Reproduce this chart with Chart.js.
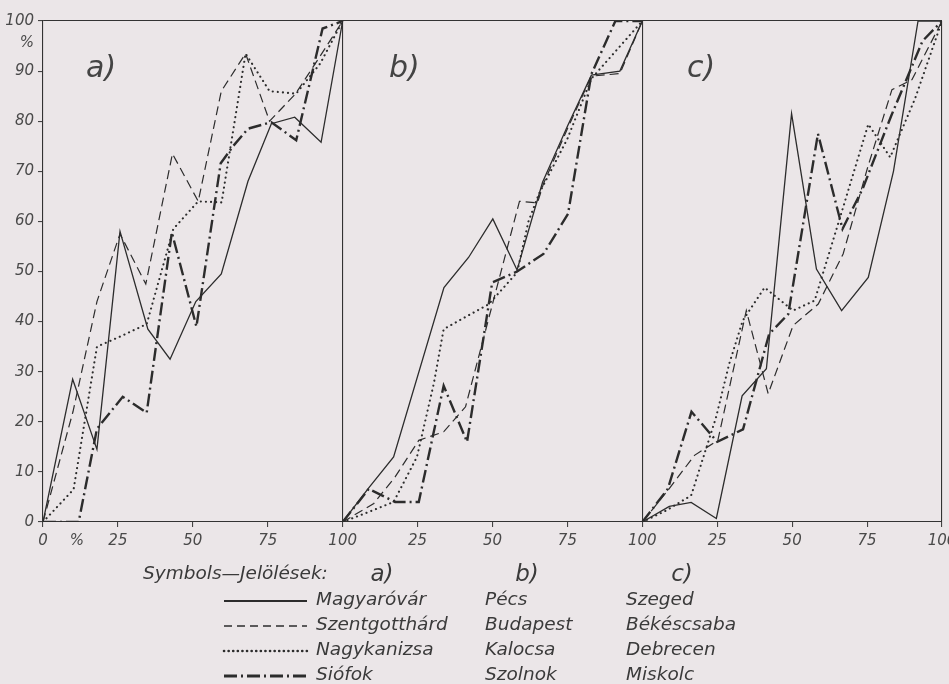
<!DOCTYPE html>
<html>
<head>
<meta charset="utf-8">
<script src="https://cdn.jsdelivr.net/npm/chart.js@4"></script>
<style>
  body { margin: 0; background: #ebe6e8; }
  #wrap { position: relative; width: 949px; height: 684px; overflow: hidden; }
  #wrap canvas { position: absolute; left: 0; top: 0; }
  .t { position: absolute; font-family: "DejaVu Sans", sans-serif; font-style: italic; color: #3a3a3a; white-space: nowrap; line-height: 1; }
  .panel { font-size: 30px; color: #444; }
  .leg { font-size: 18.5px; }
  .hd { font-size: 23px; }
  svg.s { position: absolute; }
</style>
</head>
<body>
<div id="wrap">
  <canvas id="c" width="949" height="684"></canvas>
</div>

<script>
  // x positions (% of the range) and y values (%)
  // panel a)
  const aMagyarovarX    = [0, 9.9, 18, 25.7, 35, 42.4, 51, 59.5, 68.4, 76.2, 84, 92.8, 100];
  const aMagyarovarY    = [0, 28.5, 14.5, 58, 38.5, 32.5, 44, 49.5, 68, 79.5, 80.8, 75.8, 100];
  const aSzentgotthardX = [0, 10, 18, 25.7, 34.3, 43.2, 51.8, 59.5, 67.6, 75.6, 84.3, 92.5, 100];
  const aSzentgotthardY = [0, 22, 44, 57.5, 47.5, 73.5, 64, 86, 93.5, 80, 85.5, 93, 100];
  const aNagykanizsaX   = [0, 10.2, 18, 25.7, 34.6, 43.5, 51.8, 59.6, 67.6, 75.6, 84.5, 92.5, 100];
  const aNagykanizsaY   = [0, 6.5, 35, 37, 39.5, 58.5, 64, 63.8, 93.5, 86, 85.5, 91.5, 100];
  const aSiofokX        = [0, 11.9, 18, 26.6, 34.6, 43, 51.2, 59.3, 63.4, 68.4, 76.2, 84.5, 93.3, 100];
  const aSiofokY        = [0, 0, 18.6, 25, 21.8, 57.8, 39, 71.6, 75, 78.5, 79.8, 76.2, 98.5, 100];

  // panel b)
  const bPecsX     = [0, 8.7, 17, 33.8, 42, 50.1, 58.2, 66.7, 75, 83, 92.5, 100];
  const bPecsY     = [0, 6.8, 13, 46.8, 52.8, 60.5, 50.3, 67.8, 79, 89.2, 90, 100];
  const bBudapestX = [0, 10.4, 17.5, 25.4, 33.7, 41, 59, 65, 67, 75, 83, 92.5, 100];
  const bBudapestY = [0, 3.7, 9, 16.3, 18, 23, 64, 63.7, 67.5, 78.5, 89, 89.5, 100];
  const bKalocsaX  = [0, 8.7, 17, 24.8, 30.4, 33.7, 48.8, 58.2, 62, 65.5, 75, 83, 100];
  const bKalocsaY  = [0, 2, 4, 13, 27.6, 38.5, 43.5, 49.8, 60, 65.5, 76.5, 88.5, 100];
  const bSzolnokX  = [0, 8.7, 17.5, 25.4, 33.7, 41.5, 49.9, 58.2, 67, 75.2, 83, 91, 100];
  const bSzolnokY  = [0, 6.6, 4, 4, 27.2, 16, 47.8, 50, 53.5, 61.5, 89.4, 100, 100];

  // panel c)
  const cSzegedX     = [0, 9, 16.3, 24.7, 33.3, 41.4, 49.8, 58.1, 66.5, 75.4, 83.8, 92, 100];
  const cSzegedY     = [0, 3.1, 3.9, 0.7, 25.2, 30.6, 81.5, 50.5, 42.2, 48.8, 70, 100, 100];
  const cBekescsabaX = [0, 8.5, 17.4, 25.2, 34.7, 42, 50.3, 58.7, 67, 75.3, 83.3, 90, 100];
  const cBekescsabaY = [0, 6.3, 13.3, 16.3, 42.2, 25.6, 39.2, 43.5, 53.5, 71, 86.3, 88.3, 100];
  const cDebrecenX   = [0, 8, 16.3, 24.6, 29, 33.5, 40.8, 50.3, 57.5, 67, 75.4, 82.7, 91, 100];
  const cDebrecenY   = [0, 2.3, 5.3, 20.9, 31.6, 40.2, 46.8, 42.2, 44.2, 62.8, 79.4, 72.8, 84.5, 100];
  const cMiskolcX    = [0, 8.5, 16.4, 25, 33.6, 42.3, 48.7, 58.6, 66.8, 73.5, 83, 93.5, 100];
  const cMiskolcY    = [0, 6.6, 22, 16, 18.5, 37.5, 41.5, 77.5, 58.5, 66.5, 81, 96, 100];

  // tick positions on the long x axis (three panels of 0..100 side by side)
  const xTicks = [0, 11.3, 25, 50, 75, 100, 125, 150, 175, 200, 225, 250, 275, 300];
  const xTickLabels = ['0', '%', '25', '50', '75', '100', '25', '50', '75', '100', '25', '50', '75', '100'];
  const yTicks = [0, 10, 20, 30, 40, 50, 60, 70, 80, 90, 95.6, 100];
  const yTickLabels = ['0', '10', '20', '30', '40', '50', '60', '70', '80', '90', '%', '100'];

  const panelNames = ['a)', 'b)', 'c)'];
  const styleNames = ['solid', 'dashed', 'dotted', 'dashdot'];
  const townNames = [
    ['Magyaróvár', 'Szentgotthárd', 'Nagykanizsa', 'Siófok'],
    ['Pécs', 'Budapest', 'Kalocsa', 'Szolnok'],
    ['Szeged', 'Békéscsaba', 'Debrecen', 'Miskolc']
  ];
  const series = [
    [[aMagyarovarX, aMagyarovarY], [aSzentgotthardX, aSzentgotthardY], [aNagykanizsaX, aNagykanizsaY], [aSiofokX, aSiofokY]],
    [[bPecsX, bPecsY], [bBudapestX, bBudapestY], [bKalocsaX, bKalocsaY], [bSzolnokX, bSzolnokY]],
    [[cSzegedX, cSzegedY], [cBekescsabaX, cBekescsabaY], [cDebrecenX, cDebrecenY], [cMiskolcX, cMiskolcY]]
  ];

  const INK = '#2c2c2c';
  const lineStyle = {
    solid:   { borderWidth: 1.3, borderDash: [], borderCapStyle: 'butt' },
    dashed:  { borderWidth: 1.2, borderDash: [9, 5], borderCapStyle: 'butt' },
    dotted:  { borderWidth: 2.1, borderDash: [0.1, 5], borderCapStyle: 'round' },
    dashdot: { borderWidth: 2.4, borderDash: [13, 4, 2, 4], borderCapStyle: 'butt' }
  };

  const datasets = [];
  series.forEach(function (panel, p) {
    panel.forEach(function (s, k) {
      const xs = s[0], ys = s[1];
      datasets.push(Object.assign({
        label: townNames[p][k],
        data: xs.map(function (x, i) { return { x: x + p * 100, y: ys[i] }; }),
        borderColor: INK,
        pointRadius: 0,
        tension: 0,
        fill: false
      }, lineStyle[styleNames[k]]));
    });
  });

  const tickFont = { family: 'DejaVu Sans', size: 15, style: 'italic' };

  new Chart(document.getElementById('c'), {
    type: 'line',
    data: { datasets: datasets },
    options: {
      responsive: false,
      devicePixelRatio: 1,
      animation: false,
      layout: { padding: { left: 0, top: 21, right: 7, bottom: 132 } },
      plugins: { legend: { display: false }, tooltip: { enabled: false } },
      scales: {
        x: {
          type: 'linear', min: 0, max: 300,
          afterBuildTicks: function (scale) { scale.ticks = xTicks.map(function (v) { return { value: v }; }); },
          afterFit: function (scale) { scale.height = 30; scale.paddingLeft = 0; scale.paddingRight = 0; },
          ticks: {
            autoSkip: false, maxRotation: 0, padding: 5, color: '#4a4a4a', font: tickFont,
            callback: function (v, i) { return xTickLabels[i]; }
          },
          grid: {
            tickLength: 5,
            lineWidth: 1.1,
            color: function (ctx) { const v = ctx.tick && ctx.tick.value; return (v === 100 || v === 200 || v === 300) ? '#333' : 'rgba(0,0,0,0)'; },
            tickColor: function (ctx) { return (ctx.tick && ctx.tick.value === 11.3) ? 'rgba(0,0,0,0)' : '#444'; }
          },
          border: { display: true, color: '#333', width: 1.1 }
        },
        y: {
          type: 'linear', min: 0, max: 100,
          afterBuildTicks: function (scale) { scale.ticks = yTicks.map(function (v) { return { value: v }; }); },
          afterFit: function (scale) { scale.width = 43; scale.paddingTop = 0; scale.paddingBottom = 0; },
          ticks: {
            autoSkip: false, padding: 4, color: '#4a4a4a', font: tickFont,
            callback: function (v, i) { return yTickLabels[i]; }
          },
          grid: {
            tickLength: 5,
            lineWidth: 1.1,
            color: function (ctx) { return (ctx.tick && ctx.tick.value === 100) ? '#333' : 'rgba(0,0,0,0)'; },
            tickColor: function (ctx) { return (ctx.tick && ctx.tick.value === 95.6) ? 'rgba(0,0,0,0)' : '#444'; }
          },
          border: { display: true, color: '#333', width: 1.1 }
        }
      }
    }
  });

  // panel captions and the symbol key below the chart
  const wrap = document.getElementById('wrap');
  function addText(txt, cls, left, top) {
    const d = document.createElement('div');
    d.className = 't ' + cls;
    d.textContent = txt;
    d.style.left = left + 'px';
    d.style.top = top + 'px';
    wrap.appendChild(d);
    return d;
  }
  const panelLeft = [86, 389, 687];
  panelNames.forEach(function (n, i) { addText(n, 'panel', panelLeft[i], 52); });

  addText('Symbols—Jelölések:', 'leg', 143, 564);
  const headCenter = [382, 527, 682];
  panelNames.forEach(function (n, i) {
    const d = addText(n, 'hd', headCenter[i], 562);
    d.style.transform = 'translateX(-50%)';
  });

  const rowY = [601, 626, 651, 676];
  const colLeft = [316, 485, 626];
  const svgDash = { solid: '', dashed: '8 5', dotted: '0.1 4.5', dashdot: '13 4 2 4' };
  styleNames.forEach(function (st, k) {
    const ls = lineStyle[st];
    const svg = document.createElementNS('http://www.w3.org/2000/svg', 'svg');
    svg.setAttribute('class', 's');
    svg.setAttribute('width', '90');
    svg.setAttribute('height', '10');
    svg.style.left = '222px';
    svg.style.top = (rowY[k] - 5) + 'px';
    const ln = document.createElementNS('http://www.w3.org/2000/svg', 'line');
    ln.setAttribute('x1', '2'); ln.setAttribute('x2', '85');
    ln.setAttribute('y1', '5'); ln.setAttribute('y2', '5');
    ln.setAttribute('stroke', INK);
    ln.setAttribute('stroke-width', String(ls.borderWidth + 0.5));
    if (svgDash[st]) ln.setAttribute('stroke-dasharray', svgDash[st]);
    ln.setAttribute('stroke-linecap', ls.borderCapStyle);
    svg.appendChild(ln);
    wrap.appendChild(svg);
    townNames.forEach(function (col, p) { addText(col[k], 'leg', colLeft[p], rowY[k] - 11); });
  });
</script>
</body>
</html>
